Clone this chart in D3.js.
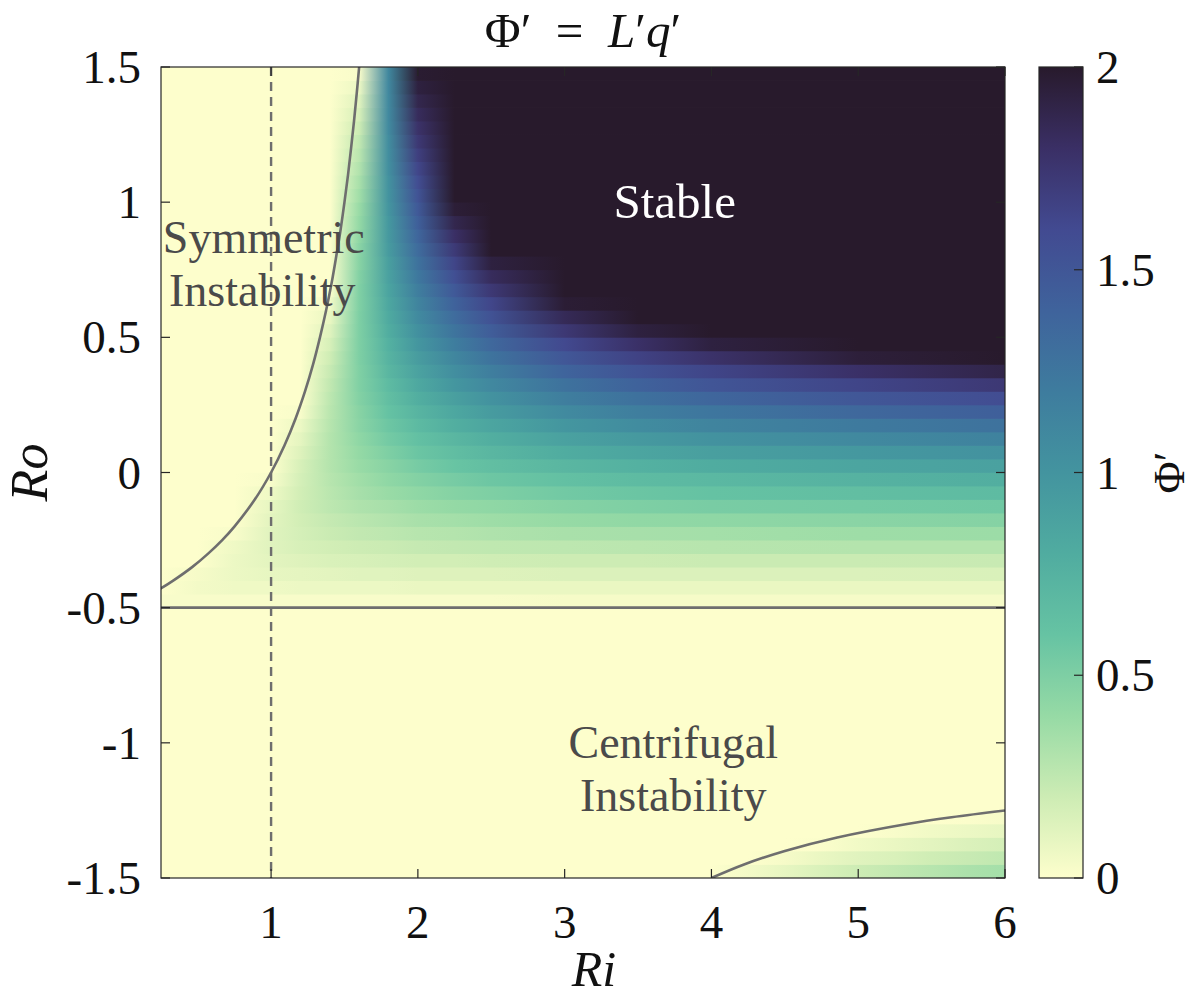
<!DOCTYPE html>
<html>
<head>
<meta charset="utf-8">
<script src="https://cdn.jsdelivr.net/npm/d3@7"></script>
<style>
  html, body { margin: 0; padding: 0; background: #ffffff; }
  svg { display: block; }
  text { font-family: "Liberation Serif", "Times New Roman", serif; }
</style>
</head>
<body>
<svg id="chart" width="1200" height="1000"></svg>
<script>
// ---------------- data ----------------
// Ri sample columns of the upper field (Ro > -0.5)
const riCols = [0.25, 0.5, 0.75, 1, 1.2, 1.4, 1.6, 1.8, 2, 2.25, 2.5, 3, 3.5, 4, 5, 6];
// Ro row centres (rows are 0.05 tall)
const roRows = [-0.475, -0.425, -0.375, -0.325, -0.275, -0.225, -0.175, -0.125, -0.075, -0.025,
                 0.025,  0.075,  0.125,  0.175,  0.225,  0.275,  0.325,  0.375,  0.425,  0.475,
                 0.525,  0.575,  0.625,  0.675,  0.725,  0.775,  0.825,  0.875,  0.925,  0.975,
                 1.025,  1.075,  1.125,  1.175,  1.225,  1.275,  1.325,  1.375,  1.425,  1.475];
// Phi' values, one row per Ro row, one value per Ri column (clipped at 2)
const phiRows = [
  [0.02,0.02,0.02,0.02,0.02,0.02,0.02,0.02,0.02,0.02,0.02,0.03,0.03,0.03,0.03,0.03],
  [0,0.04,0.06,0.06,0.07,0.07,0.07,0.07,0.08,0.08,0.08,0.08,0.08,0.08,0.08,0.08],
  [0,0.03,0.07,0.09,0.10,0.11,0.12,0.12,0.13,0.13,0.13,0.14,0.14,0.14,0.14,0.15],
  [0,0,0.07,0.11,0.13,0.15,0.16,0.17,0.18,0.18,0.19,0.20,0.20,0.21,0.21,0.22],
  [0,0,0.06,0.12,0.16,0.18,0.20,0.21,0.23,0.24,0.25,0.26,0.27,0.28,0.29,0.29],
  [0,0,0.02,0.12,0.17,0.21,0.24,0.26,0.28,0.29,0.31,0.33,0.34,0.35,0.37,0.38],
  [0,0,0,0.11,0.18,0.23,0.27,0.30,0.33,0.35,0.37,0.40,0.42,0.43,0.45,0.47],
  [0,0,0,0.09,0.19,0.26,0.31,0.34,0.38,0.41,0.43,0.47,0.50,0.52,0.54,0.56],
  [0,0,0,0.06,0.18,0.27,0.34,0.39,0.43,0.47,0.50,0.55,0.58,0.61,0.64,0.67],
  [0,0,0,0.02,0.17,0.28,0.36,0.43,0.48,0.53,0.57,0.63,0.67,0.70,0.75,0.78],
  [0,0,0,0,0.16,0.29,0.39,0.46,0.53,0.59,0.64,0.71,0.76,0.80,0.86,0.89],
  [0,0,0,0,0.13,0.29,0.41,0.50,0.58,0.65,0.71,0.80,0.86,0.91,0.97,1.02],
  [0,0,0,0,0.10,0.29,0.43,0.54,0.63,0.71,0.78,0.89,0.96,1.02,1.09,1.15],
  [0,0,0,0,0.07,0.28,0.45,0.57,0.68,0.78,0.86,0.98,1.07,1.13,1.22,1.28],
  [0,0,0,0,0.02,0.27,0.46,0.61,0.73,0.84,0.94,1.08,1.18,1.25,1.36,1.43],
  [0,0,0,0,0,0.26,0.48,0.64,0.78,0.91,1.02,1.18,1.29,1.38,1.50,1.58],
  [0,0,0,0,0,0.24,0.49,0.67,0.83,0.98,1.10,1.28,1.41,1.51,1.64,1.73],
  [0,0,0,0,0,0.22,0.49,0.71,0.88,1.05,1.18,1.39,1.53,1.64,1.79,1.90],
  [0,0,0,0,0,0.19,0.50,0.74,0.93,1.12,1.27,1.50,1.66,1.78,1.95,2],
  [0,0,0,0,0,0.16,0.50,0.76,0.98,1.19,1.36,1.61,1.79,1.93,2,2],
  [0,0,0,0,0,0.12,0.50,0.79,1.03,1.26,1.45,1.73,1.93,2,2,2],
  [0,0,0,0,0,0.08,0.50,0.82,1.08,1.33,1.54,1.85,2,2,2,2],
  [0,0,0,0,0,0.04,0.49,0.84,1.13,1.41,1.63,1.97,2,2,2,2],
  [0,0,0,0,0,0,0.49,0.87,1.18,1.48,1.73,2,2,2,2,2],
  [0,0,0,0,0,0,0.48,0.89,1.23,1.56,1.83,2,2,2,2,2],
  [0,0,0,0,0,0,0.46,0.91,1.28,1.64,1.93,2,2,2,2,2],
  [0,0,0,0,0,0,0.45,0.94,1.33,1.72,2,2,2,2,2,2],
  [0,0,0,0,0,0,0.43,0.96,1.38,1.80,2,2,2,2,2,2],
  [0,0,0,0,0,0,0.41,0.97,1.43,1.88,2,2,2,2,2,2],
  [0,0,0,0,0,0,0.39,0.99,1.48,1.96,2,2,2,2,2,2],
  [0,0,0,0,0,0,0.36,1.01,1.53,2,2,2,2,2,2,2],
  [0,0,0,0,0,0,0.33,1.02,1.58,2,2,2,2,2,2,2],
  [0,0,0,0,0,0,0.30,1.04,1.63,2,2,2,2,2,2,2],
  [0,0,0,0,0,0,0.27,1.05,1.68,2,2,2,2,2,2,2],
  [0,0,0,0,0,0,0.24,1.06,1.73,2,2,2,2,2,2,2],
  [0,0,0,0,0,0,0.20,1.08,1.78,2,2,2,2,2,2,2],
  [0,0,0,0,0,0,0.16,1.09,1.83,2,2,2,2,2,2,2],
  [0,0,0,0,0,0,0.12,1.09,1.88,2,2,2,2,2,2,2],
  [0,0,0,0,0,0,0.07,1.10,1.93,2,2,2,2,2,2,2],
  [0,0,0,0,0,0,0.02,1.11,1.98,2,2,2,2,2,2,2]
];
// lower-right patch (Ro < -1.25, Ri > 4)
const riColsLow = [4, 4.25, 4.5, 4.75, 5, 5.25, 5.5, 5.75, 6];
const roRowsLow = [-1.475, -1.425, -1.375, -1.325, -1.275];
const phiRowsLow = [
  [0,0.04,0.09,0.15,0.20,0.24,0.28,0.32,0.35],
  [0,0,0.03,0.08,0.12,0.15,0.19,0.22,0.25],
  [0,0,0,0.01,0.05,0.08,0.11,0.14,0.17],
  [0,0,0,0,0,0.02,0.05,0.07,0.09],
  [0,0,0,0,0,0,0,0.01,0.03]
];
// marginal-stability curve (upper branch and lower branch)
const siCurveRi = [0.182, 0.246, 0.333, 0.462, 0.571, 0.667, 0.75, 0.889, 1, 1.091, 1.167, 1.231,
                   1.286, 1.333, 1.375, 1.412, 1.444, 1.474, 1.5, 1.524, 1.545, 1.565, 1.583, 1.6];
const siCurveRo = [-0.45, -0.43, -0.4, -0.35, -0.3, -0.25, -0.2, -0.1, 0, 0.1, 0.2, 0.3,
                   0.4, 0.5, 0.6, 0.7, 0.8, 0.9, 1.0, 1.1, 1.2, 1.3, 1.4, 1.5];
const ciCurveRi = [4, 4.222, 4.5, 4.857, 5.333, 5.636, 6];
const ciCurveRo = [-1.5, -1.45, -1.4, -1.35, -1.3, -1.275, -1.25];
const ciLineRo = [-0.5];      // horizontal boundary
const refLineRi = [1];        // dashed reference line
// ticks
const xTicks = [1, 2, 3, 4, 5, 6];
const xTickLabels = ["1", "2", "3", "4", "5", "6"];
const yTicks = [-1.5, -1, -0.5, 0, 0.5, 1, 1.5];
const yTickLabels = ["-1.5", "-1", "-0.5", "0", "0.5", "1", "1.5"];
const cbTicks = [0, 0.5, 1, 1.5, 2];
const cbTickLabels = ["0", "0.5", "1", "1.5", "2"];
// colormap stops (cmocean "deep"), value -> colour
const cmapValues = [0, 0.2, 0.4, 0.6, 0.8, 1.0, 1.2, 1.4, 1.6, 1.8, 2.0];
const cmapColors = ["#fdfecc", "#cdecb4", "#96daa5", "#66c3a3", "#50aca0", "#43949f",
                    "#3e7c9e", "#3f639c", "#424a91", "#3a2f65", "#281a2c"];

// ---------------- layout ----------------
const svg = d3.select("#chart");
const M = { left: 161, right: 1005, top: 67, bottom: 878 };
const x = d3.scaleLinear().domain([0.25, 6]).range([M.left, M.right]);
const y = d3.scaleLinear().domain([-1.5, 1.5]).range([M.bottom, M.top]);
const color = d3.scaleLinear().domain(cmapValues).range(cmapColors).clamp(true);
const defs = svg.append("defs");
const FS = 47;
const FA = 46;
const axisCol = "#262626";
const curveCol = "#6e6e6e";

defs.append("clipPath").attr("id", "plotclip")
  .append("rect").attr("x", M.left).attr("y", M.top)
  .attr("width", M.right - M.left).attr("height", M.bottom - M.top);

const plot = svg.append("g").attr("clip-path", "url(#plotclip)");

// background = zero value
plot.append("rect").attr("x", M.left).attr("y", M.top)
  .attr("width", M.right - M.left).attr("height", M.bottom - M.top)
  .attr("fill", color(0));

function drawRows(cols, rows, vals, tag) {
  const xa = x(cols[0]), xb = x(cols[cols.length - 1]);
  rows.forEach((ro, i) => {
    const id = tag + i;
    const grad = defs.append("linearGradient").attr("id", id)
      .attr("gradientUnits", "userSpaceOnUse")
      .attr("x1", xa).attr("x2", xb).attr("y1", 0).attr("y2", 0);
    grad.selectAll("stop").data(vals[i]).join("stop")
      .attr("offset", (d, j) => (x(cols[j]) - xa) / (xb - xa))
      .attr("stop-color", d => color(d));
    const yt = y(ro + 0.025), yb = y(ro - 0.025);
    plot.append("rect")
      .attr("x", xa).attr("width", xb - xa)
      .attr("y", yt - 0.4).attr("height", yb - yt + 0.8)
      .attr("fill", `url(#${id})`);
  });
}
drawRows(riCols, roRows, phiRows, "gu");
drawRows(riColsLow, roRowsLow, phiRowsLow, "gl");

// boundaries
const line = d3.line().x(d => x(d[0])).y(d => y(d[1])).curve(d3.curveCatmullRom.alpha(0.5));
plot.append("path").datum(siCurveRi.map((r, i) => [r, siCurveRo[i]]))
  .attr("d", line).attr("fill", "none").attr("stroke", curveCol).attr("stroke-width", 2.6);
plot.append("path").datum(ciCurveRi.map((r, i) => [r, ciCurveRo[i]]))
  .attr("d", line).attr("fill", "none").attr("stroke", curveCol).attr("stroke-width", 2.6);
plot.selectAll(".hline").data(ciLineRo).join("line").attr("class", "hline")
  .attr("x1", M.left).attr("x2", M.right).attr("y1", d => y(d)).attr("y2", d => y(d))
  .attr("stroke", curveCol).attr("stroke-width", 2.6);
plot.selectAll(".vline").data(refLineRi).join("line").attr("class", "vline")
  .attr("x1", d => x(d)).attr("x2", d => x(d)).attr("y1", M.top).attr("y2", M.bottom)
  .attr("stroke", curveCol).attr("stroke-width", 2.4).attr("stroke-dasharray", "9,6");

// annotations
const ann = svg.append("g").attr("font-size", FA).attr("text-anchor", "middle");
ann.append("text").attr("x", x(3.75)).attr("y", 218).attr("font-size", 49).attr("fill", "#ffffff").text("Stable");
ann.append("text").attr("x", x(0.95)).attr("y", 253).attr("fill", "#4a4a4a").text("Symmetric");
ann.append("text").attr("x", x(0.94)).attr("y", 306).attr("fill", "#4a4a4a").text("Instability");
ann.append("text").attr("x", x(3.74)).attr("y", 758).attr("fill", "#4a4a4a").text("Centrifugal");
ann.append("text").attr("x", x(3.74)).attr("y", 811).attr("fill", "#4a4a4a").text("Instability");

// axes box and ticks (inward, on all sides)
const ax = svg.append("g");
ax.append("rect").attr("x", M.left).attr("y", M.top)
  .attr("width", M.right - M.left).attr("height", M.bottom - M.top)
  .attr("fill", "none").attr("stroke", axisCol).attr("stroke-width", 1.2);
const TL = 9;
xTicks.forEach(t => {
  ax.append("line").attr("x1", x(t)).attr("x2", x(t)).attr("y1", M.bottom).attr("y2", M.bottom - TL)
    .attr("stroke", axisCol).attr("stroke-width", 1.2);
  ax.append("line").attr("x1", x(t)).attr("x2", x(t)).attr("y1", M.top).attr("y2", M.top + TL)
    .attr("stroke", axisCol).attr("stroke-width", 1.2);
});
yTicks.forEach(t => {
  ax.append("line").attr("x1", M.left).attr("x2", M.left + TL).attr("y1", y(t)).attr("y2", y(t))
    .attr("stroke", axisCol).attr("stroke-width", 1.2);
  ax.append("line").attr("x1", M.right).attr("x2", M.right - TL).attr("y1", y(t)).attr("y2", y(t))
    .attr("stroke", axisCol).attr("stroke-width", 1.2);
});
ax.selectAll(".xl").data(xTicks).join("text").attr("class", "xl")
  .attr("x", d => x(d)).attr("y", 938).attr("text-anchor", "middle")
  .attr("font-size", FS).attr("fill", "#111").text((d, i) => xTickLabels[i]);
ax.selectAll(".yl").data(yTicks).join("text").attr("class", "yl")
  .attr("x", 141).attr("y", d => y(d) + 16).attr("text-anchor", "end")
  .attr("font-size", FS).attr("fill", "#111").text((d, i) => yTickLabels[i]);

// axis labels
svg.append("text").attr("x", x(3.2)).attr("y", 986).attr("text-anchor", "middle")
  .attr("font-size", 50).attr("font-style", "italic").attr("fill", "#111").text("Ri");
svg.append("text").attr("transform", `translate(47,${y(0)}) rotate(-90)`).attr("text-anchor", "middle")
  .attr("font-size", 52).attr("font-style", "italic").attr("fill", "#111").text("Ro");

// title
const title = svg.append("text").attr("x", (M.left + M.right) / 2).attr("y", 47)
  .attr("text-anchor", "middle").attr("font-size", 49).attr("fill", "#111");
title.append("tspan").text("Φ′\u2002=\u2002");
title.append("tspan").attr("font-style", "italic").text("L");
title.append("tspan").text("′");
title.append("tspan").attr("font-style", "italic").text("q");
title.append("tspan").text("′");

// colorbar
const CB = { x: 1039, w: 44 };
const cy = d3.scaleLinear().domain([0, 2]).range([M.bottom, M.top]);
const cg = defs.append("linearGradient").attr("id", "cbgrad")
  .attr("x1", 0).attr("x2", 0).attr("y1", 1).attr("y2", 0);
cg.selectAll("stop").data(cmapValues).join("stop")
  .attr("offset", d => d / 2).attr("stop-color", (d, i) => cmapColors[i]);
svg.append("rect").attr("x", CB.x).attr("y", M.top).attr("width", CB.w).attr("height", M.bottom - M.top)
  .attr("fill", "url(#cbgrad)").attr("stroke", axisCol).attr("stroke-width", 1.2);
cbTicks.forEach(t => {
  svg.append("line").attr("x1", CB.x + CB.w).attr("x2", CB.x + CB.w - 9)
    .attr("y1", cy(t)).attr("y2", cy(t)).attr("stroke", axisCol).attr("stroke-width", 1.2);
});
svg.selectAll(".cbl").data(cbTicks).join("text").attr("class", "cbl")
  .attr("x", 1096).attr("y", d => cy(d) + 16).attr("font-size", FS).attr("fill", "#111")
  .text((d, i) => cbTickLabels[i]);
svg.append("text").attr("transform", `translate(1184,${cy(1)}) rotate(-90)`).attr("text-anchor", "middle")
  .attr("font-size", 44).attr("fill", "#111").text("Φ′");
</script>
</body>
</html>
